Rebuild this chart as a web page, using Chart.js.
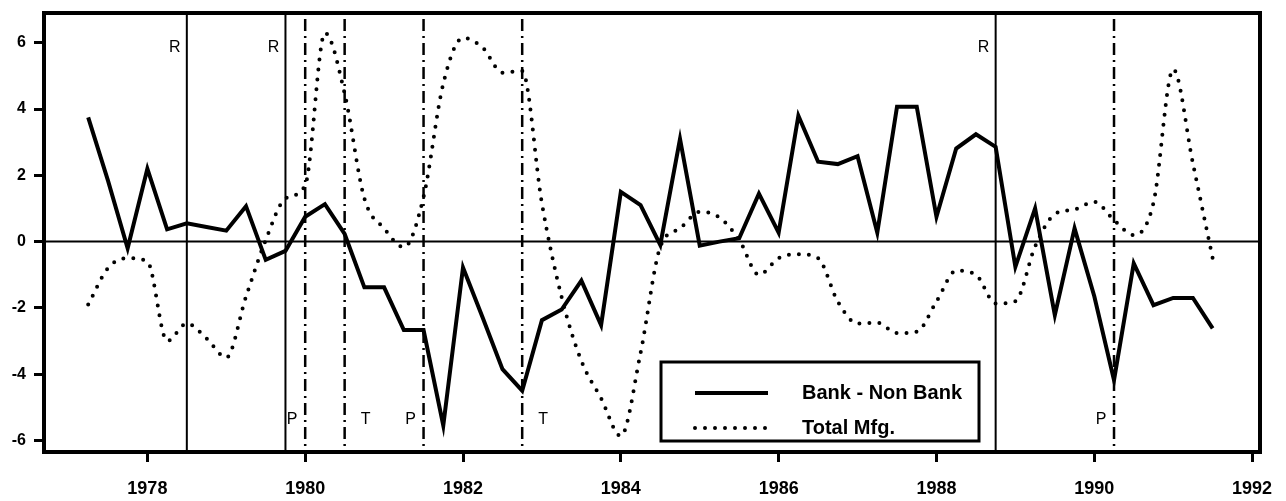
<!DOCTYPE html>
<html><head><meta charset="utf-8">
<script src="https://cdn.jsdelivr.net/npm/chart.js@4.4.1/dist/chart.umd.min.js"></script>
<style>html,body{margin:0;padding:0;background:#fff;overflow:hidden}canvas{display:block}</style>
</head><body>
<canvas id="c" width="1286" height="501"></canvas>
<script>
// Quarterly dates
const quarters = [1977.25,1977.5,1977.75,1978.0,1978.25,1978.5,1978.75,1979.0,1979.25,1979.5,1979.75,
  1980.0,1980.25,1980.5,1980.75,1981.0,1981.25,1981.5,1981.75,1982.0,1982.25,1982.5,1982.75,
  1983.0,1983.25,1983.5,1983.75,1984.0,1984.25,1984.5,1984.75,1985.0,1985.25,1985.5,1985.75,
  1986.0,1986.25,1986.5,1986.75,1987.0,1987.25,1987.5,1987.75,1988.0,1988.25,1988.5,1988.75,
  1989.0,1989.25,1989.5,1989.75,1990.0,1990.25,1990.5,1990.75,1991.0,1991.25,1991.5];
// Bank - Non Bank (solid)
const bankNonBank = [3.75,1.85,-0.2,2.2,0.37,0.55,0.44,0.33,1.07,-0.55,-0.28,
  0.75,1.13,0.23,-1.38,-1.38,-2.67,-2.67,-5.55,-0.78,-2.3,-3.85,-4.5,
  -2.37,-2.05,-1.18,-2.52,1.5,1.1,-0.1,3.1,-0.12,0.0,0.1,1.45,
  0.27,3.8,2.41,2.34,2.58,0.27,4.07,4.07,0.75,2.81,3.24,2.86,
  -0.76,1.0,-2.22,0.4,-1.65,-4.18,-0.66,-1.92,-1.7,-1.7,-2.62];
// Total Mfg. (dotted)
const totalMfg = [-1.9,-0.8,-0.5,-0.6,-3.0,-2.47,-2.92,-3.5,-1.66,0.05,1.3,
  1.7,6.3,4.47,1.3,0.4,-0.17,1.35,4.77,6.15,5.85,5.1,5.15,
  1.15,-1.68,-3.6,-4.73,-5.87,-3.36,-0.16,0.4,0.9,0.73,0.05,-1.0,
  -0.5,-0.38,-0.5,-1.81,-2.47,-2.45,-2.76,-2.72,-1.81,-0.88,-1.0,-1.87,
  -1.8,-0.15,0.83,0.97,1.2,0.65,0.2,1.17,5.2,2.36,-0.5];
const xTicks = [1978,1980,1982,1984,1986,1988,1990,1992];
const yTicks = [-6,-4,-2,0,2,4,6];
// Event markers
const ruleDates = [1978.5, 1979.75, 1988.75];
const ruleLabels = ['R','R','R'];
const turnDates = [1980.0, 1980.5, 1981.5, 1982.75, 1990.25];
const turnLabels = ['P','T','P','T','P'];
const seriesNames = ['Bank - Non Bank', 'Total Mfg.'];

const FONT = '"Liberation Sans", Arial, Helvetica, sans-serif';

const markers = {
  id: 'markers',
  beforeDatasetsDraw(chart) {
    const {ctx, chartArea: ca, scales: {x, y}} = chart;
    ctx.save();
    ctx.strokeStyle = '#000';
    // zero line
    const y0 = y.getPixelForValue(0);
    ctx.lineWidth = 2;
    ctx.beginPath(); ctx.moveTo(ca.left, y0); ctx.lineTo(ca.right, y0); ctx.stroke();
    ctx.font = '16px ' + FONT;
    ctx.fillStyle = '#000';
    ctx.textAlign = 'center'; ctx.textBaseline = 'middle';
    ruleDates.forEach((d, i) => {
      const px = x.getPixelForValue(d);
      ctx.lineWidth = 2;
      ctx.setLineDash([]);
      ctx.beginPath(); ctx.moveTo(px, ca.top); ctx.lineTo(px, ca.bottom); ctx.stroke();
      ctx.fillText(ruleLabels[i], px - 12, ca.top + 35);
    });
    turnDates.forEach((d, i) => {
      const px = x.getPixelForValue(d);
      ctx.lineWidth = 2.5;
      ctx.setLineDash([12, 5, 2, 5]);
      ctx.beginPath(); ctx.moveTo(px, ca.top + 6); ctx.lineTo(px, ca.bottom); ctx.stroke();
      ctx.setLineDash([]);
      const off = turnLabels[i] === 'P' ? -13 : 21;
      ctx.fillText(turnLabels[i], px + off, ca.bottom - 32);
    });
    ctx.restore();
  },
  afterDatasetsDraw(chart) {
    const {ctx, chartArea: ca} = chart;
    ctx.save();
    // legend box
    const lx = ca.left + 617, ly = ca.top + 349, lw = 318, lh = 79;
    ctx.fillStyle = '#fff';
    ctx.fillRect(lx, ly, lw, lh);
    ctx.strokeStyle = '#000'; ctx.lineWidth = 3;
    ctx.strokeRect(lx, ly, lw, lh);
    chart.data.datasets.forEach((ds, i) => {
      const yy = ly + 31 + i * 35;
      ctx.lineWidth = ds.borderWidth;
      ctx.lineCap = ds.borderCapStyle || 'butt';
      ctx.setLineDash(ds.borderDash || []);
      ctx.beginPath(); ctx.moveTo(lx + 34, yy); ctx.lineTo(lx + 107, yy); ctx.stroke();
      ctx.setLineDash([]);
      ctx.fillStyle = '#000';
      ctx.font = 'bold 20px ' + FONT;
      ctx.textAlign = 'left'; ctx.textBaseline = 'middle';
      ctx.fillText(ds.label, lx + 141, yy);
    });
    // frame
    ctx.lineCap = 'butt';
    ctx.lineWidth = 4;
    ctx.strokeRect(ca.left, ca.top, ca.right - ca.left, ca.bottom - ca.top);
    ctx.restore();
  }
};

new Chart(document.getElementById('c'), {
  type: 'line',
  data: {
    datasets: [
      {
        label: seriesNames[0],
        data: quarters.map((q, i) => ({x: q, y: bankNonBank[i]})),
        borderColor: '#000', borderWidth: 4, pointRadius: 0,
        borderJoinStyle: 'miter', tension: 0, fill: false
      },
      {
        label: seriesNames[1],
        data: quarters.map((q, i) => ({x: q, y: totalMfg[i]})),
        borderColor: '#000', borderWidth: 4, pointRadius: 0,
        borderDash: [0, 10], borderCapStyle: 'round',
        cubicInterpolationMode: 'monotone', fill: false
      }
    ]
  },
  options: {
    responsive: false,
    animation: false,
    devicePixelRatio: 1,
    layout: {padding: {left: 0, right: 26, top: 13, bottom: 0}},
    plugins: {legend: {display: false}, tooltip: {enabled: false}},
    scales: {
      x: {
        type: 'linear', min: 1976.69, max: 1992.1,
        afterBuildTicks: s => { s.ticks = xTicks.map(v => ({value: v})); },
        afterFit: s => { s.height = 49; s.paddingLeft = 0; s.paddingRight = 0; },
        grid: {drawOnChartArea: false, drawTicks: true, tickLength: 10, tickWidth: 3, tickColor: '#000', color: '#000'},
        border: {display: false},
        ticks: {color: '#000', font: {family: FONT, size: 18, weight: 'bold'}, padding: 16, maxRotation: 0,
          callback: v => String(v)}
      },
      y: {
        min: -6.35, max: 6.9,
        afterBuildTicks: s => { s.ticks = yTicks.map(v => ({value: v})); },
        afterFit: s => { s.width = 44; s.paddingTop = 0; s.paddingBottom = 0; },
        grid: {drawOnChartArea: false, drawTicks: true, tickLength: 10, tickWidth: 3, tickColor: '#000', color: '#000'},
        border: {display: false},
        ticks: {color: '#000', font: {family: FONT, size: 16, weight: 'bold'}, padding: 8,
          callback: v => String(v)}
      }
    }
  },
  plugins: [markers]
});
</script>
</body></html>
